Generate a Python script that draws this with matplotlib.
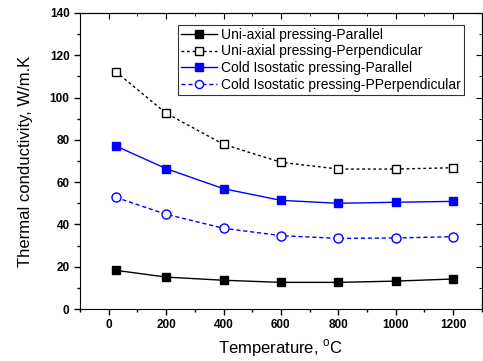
import matplotlib
matplotlib.use("Agg")
import matplotlib.pyplot as plt
from matplotlib.ticker import MultipleLocator

plt.rcParams['font.family'] = ['Liberation Sans', 'DejaVu Sans']
plt.rcParams['mathtext.fontset'] = 'custom'
plt.rcParams['mathtext.rm'] = 'Liberation Sans'

temperature = [25, 200, 400, 600, 800, 1000, 1200]
uni_parallel = [18.3, 15.1, 13.6, 12.6, 12.6, 13.2, 14.2]
uni_perpendicular = [112.2, 92.6, 77.9, 69.4, 66.2, 66.2, 66.8]
cip_parallel = [77.1, 66.4, 56.9, 51.4, 50.0, 50.5, 50.9]
cip_perpendicular = [52.8, 44.8, 38.2, 34.7, 33.4, 33.6, 34.2]

labels = ['Uni-axial pressing-Parallel', 'Uni-axial pressing-Perpendicular',
          'Cold Isostatic pressing-Parallel', 'Cold Isostatic pressing-PPerpendicular']

fig = plt.figure(figsize=(4.83, 3.61), dpi=100)
ax = fig.add_axes([0.1656, 0.144, 0.832, 0.82])

ax.plot(temperature, uni_parallel, '-s', color='black', lw=1, ms=6,
        mfc='black', label=labels[0])
ax.plot(temperature, uni_perpendicular, 's', ls=(0, (2, 2)), color='black', lw=1, ms=6,
        mfc='white', label=labels[1])
ax.plot(temperature, cip_parallel, '-s', color='blue', lw=1, ms=6,
        mfc='blue', label=labels[2])
ax.plot(temperature, cip_perpendicular, 'o', ls=(0, (3, 2)), color='blue', lw=1, ms=6.5,
        mfc='white', label=labels[3])

ax.set_xlim(-100, 1300)
ax.set_ylim(0, 140)
ax.xaxis.set_major_locator(MultipleLocator(200))
ax.xaxis.set_minor_locator(MultipleLocator(100))
ax.yaxis.set_major_locator(MultipleLocator(20))
ax.yaxis.set_minor_locator(MultipleLocator(10))
ax.tick_params(which='both', direction='out', top=False, right=False, width=1)
ax.tick_params(which='major', length=4, labelsize=8.5)
ax.tick_params(which='minor', length=2.5)
for lab in ax.get_xticklabels() + ax.get_yticklabels():
    lab.set_fontweight('bold')

# mirrored ticks on top/right pointing inward
sec_x = ax.secondary_xaxis('top')
sec_x.xaxis.set_major_locator(MultipleLocator(200))
sec_x.xaxis.set_minor_locator(MultipleLocator(100))
sec_x.tick_params(which='both', direction='in', labeltop=False)
sec_x.tick_params(which='major', length=4)
sec_x.tick_params(which='minor', length=2.5)
sec_y = ax.secondary_yaxis('right')
sec_y.yaxis.set_major_locator(MultipleLocator(20))
sec_y.yaxis.set_minor_locator(MultipleLocator(10))
sec_y.tick_params(which='both', direction='in', labelright=False)
sec_y.tick_params(which='major', length=4)
sec_y.tick_params(which='minor', length=2.5)

ax.set_xlabel(r'Temperature, $^{\mathrm{o}}$C', fontsize=12, labelpad=4)
ax.set_ylabel('Thermal conductivity, W/m.K', fontsize=12, labelpad=12)

leg = ax.legend(loc='upper right', bbox_to_anchor=(0.955, 0.96), fontsize=10,
                frameon=True, fancybox=False, edgecolor='black',
                handlelength=2.6, handletextpad=0.3, borderpad=0.2,
                labelspacing=0.2, borderaxespad=0, markerscale=0.9)
leg.get_frame().set_linewidth(0.8)

fig.savefig('out.png', dpi=100)
